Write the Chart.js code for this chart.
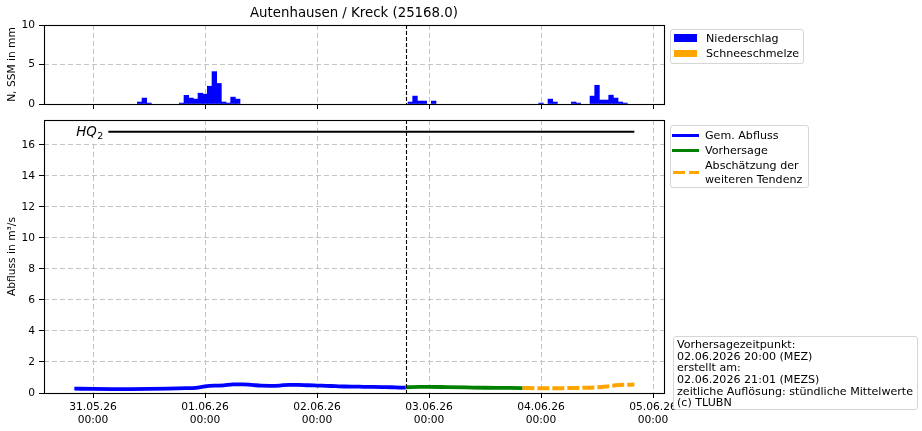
<!DOCTYPE html>
<html><head><meta charset="utf-8">
<script src="https://cdn.jsdelivr.net/npm/chart.js@4.4.1/dist/chart.umd.min.js"></script>
<style>
html,body{margin:0;padding:0;background:#fff;}
#wrap{position:relative;width:922px;height:431px;overflow:hidden;font-family:"DejaVu Sans",sans-serif;font-size:11.1px;color:#000;}
#wrap canvas{position:absolute;left:0;top:0;}
.box{position:absolute;border:1px solid #d6d6d6;border-radius:3px;background:#fff;box-sizing:border-box;}
.t{position:absolute;white-space:nowrap;line-height:13px;}
.sw{position:absolute;}
#title{position:absolute;top:5px;left:154px;width:400px;text-align:center;font-size:13.33px;line-height:16px;white-space:nowrap;}
</style></head>
<body>
<div id="wrap">
  <canvas id="top" width="922" height="431"></canvas>
  <canvas id="bottom" width="922" height="431"></canvas>
  <div id="title"></div>
</div>
<script>
// ---------------- DATA ----------------
const stationTitle = 'Autenhausen / Kreck (25168.0)';
// x axis: hours since 31.05.26 00:00
const tickHours = [0, 24, 48, 72, 96, 120];
const tickDates = ['31.05.26', '01.06.26', '02.06.26', '03.06.26', '04.06.26', '05.06.26'];
const tickTimes = ['00:00', '00:00', '00:00', '00:00', '00:00', '00:00'];
const forecastHour = 67; // Vorhersagezeitpunkt marker

// Niederschlag (mm per hour)
const rainHours  = [10, 11, 12, 19, 20, 21, 22, 23, 24, 25, 26, 27, 28, 29, 30, 31,
                    68, 69, 70, 71, 73, 96, 98, 99, 103, 104, 107, 108, 109, 110, 111, 112, 113, 114];
const rainValues = [0.25, 0.75, 0.12, 0.12, 1.1, 0.75, 0.62, 1.37, 1.25, 2.25, 4.1, 2.6, 0.25, 0.12, 0.87, 0.62,
                    0.25, 1.0, 0.37, 0.37, 0.37, 0.12, 0.62, 0.25, 0.25, 0.12, 1.0, 2.37, 0.5, 0.5, 1.12, 0.75, 0.25, 0.12];
// Schneeschmelze (none)
const snowHours  = [];
const snowValues = [];

// Gemessener Abfluss (m³/s)
const obsHours  = [-4, 0, 4, 8, 12, 16, 20, 22, 24, 26, 28, 30, 32, 34, 36, 38, 40, 42, 44, 46, 48, 50, 52, 54, 56, 58, 60, 62, 64, 66, 67];
const obsValues = [0.28, 0.26, 0.25, 0.25, 0.26, 0.28, 0.31, 0.33, 0.42, 0.47, 0.49, 0.56, 0.56, 0.52, 0.47, 0.46, 0.48, 0.53, 0.53, 0.5, 0.48, 0.46, 0.44, 0.42, 0.41, 0.4, 0.39, 0.38, 0.37, 0.35, 0.35];
// Vorhersage
const fcHours  = [67, 70, 72, 76, 80, 84, 88, 92];
const fcValues = [0.37, 0.39, 0.4, 0.38, 0.36, 0.34, 0.33, 0.32];
// Abschätzung der weiteren Tendenz
const trendHours  = [92, 96, 100, 104, 108, 110, 112, 114, 116];
const trendValues = [0.32, 0.31, 0.31, 0.33, 0.37, 0.42, 0.5, 0.53, 0.54];
// HQ2
const hq2Value = 16.84;
const hq2Hours = [-4, 116];

const legendTop = ['Niederschlag', 'Schneeschmelze'];
const legendBottom = ['Gem. Abfluss', 'Vorhersage', 'Abschätzung der\nweiteren Tendenz'];
const infoLines = ['Vorhersagezeitpunkt:', '02.06.2026 20:00 (MEZ)', 'erstellt am:', '02.06.2026 21:01 (MEZS)',
                   'zeitliche Auflösung: stündliche Mittelwerte', '(c) TLUBN'];

// ---------------- STYLE ----------------
const FONT = "'DejaVu Sans', sans-serif";
const FS = 10.67;
const X_MIN = -10.5, X_MAX = 122.35;
const GRID = '#c4c4c4';
const C_BLUE = '#0000ff', C_GREEN = '#008000', C_ORANGE = '#ffa500';

const pts = (xs, ys) => xs.map((x, i) => ({x: x, y: ys[i]}));

const framePlugin = {
  id: 'frame',
  afterDraw(chart) {
    const a = chart.chartArea, ctx = chart.ctx;
    const xs = chart.scales.x;
    const px = Math.round(xs.getPixelForValue(forecastHour)) + 0.5;
    ctx.save();
    ctx.strokeStyle = '#000';
    ctx.lineWidth = 1.1;
    ctx.setLineDash([4, 2]);
    ctx.beginPath(); ctx.moveTo(px, a.top); ctx.lineTo(px, a.bottom); ctx.stroke();
    ctx.setLineDash([]);
    ctx.strokeRect(Math.round(a.left) + 0.5, Math.round(a.top) + 0.5, Math.round(a.right - a.left), Math.round(a.bottom - a.top));
    ctx.restore();
  }
};

const hqPlugin = {
  id: 'hqlabel',
  afterDatasetsDraw(chart) {
    const ctx = chart.ctx, xs = chart.scales.x, ys = chart.scales.y;
    const y = ys.getPixelForValue(hq2Value);
    const x0 = xs.getPixelForValue(hq2Hours[0]);
    ctx.save();
    ctx.fillStyle = '#fff';
    ctx.fillRect(x0 - 8, chart.chartArea.top + 1, 42, y - chart.chartArea.top + 10);
    ctx.fillStyle = '#000';
    ctx.font = 'italic 13.33px ' + FONT;
    ctx.textBaseline = 'alphabetic';
    ctx.fillText('HQ', x0 + 2, y + 4.5);
    const w = ctx.measureText('HQ').width;
    ctx.font = '9.5px ' + FONT;
    ctx.fillText('2', x0 + 2 + w + 0.5, y + 7);
    ctx.restore();
  }
};

function xAxis(showLabels, height) {
  return {
    type: 'linear', min: X_MIN, max: X_MAX, offset: false,
    afterBuildTicks: s => { s.ticks = tickHours.map(v => ({value: v})); },
    afterFit: s => { s.height = height; },
    ticks: {
      display: showLabels, autoSkip: false, maxRotation: 0, minRotation: 0, padding: 3,
      color: '#000', font: {family: FONT, size: FS, lineHeight: 1.2},
      callback: v => { const i = tickHours.indexOf(v); return i >= 0 ? [tickDates[i], tickTimes[i]] : ''; }
    },
    grid: {color: GRID, lineWidth: 1, drawTicks: true, tickLength: 5, tickColor: '#000', tickWidth: 1, tickBorderDash: [], offset: false},
    border: {display: false, dash: [5, 3]}
  };
}

function yAxis(min, max, step, title) {
  return {
    type: 'linear', min: min, max: max,
    afterFit: s => { s.width = 44; },
    ticks: {stepSize: step, includeBounds: false, padding: 4, color: '#000', font: {family: FONT, size: FS}},
    grid: {color: GRID, lineWidth: 1, drawTicks: true, tickLength: 5, tickColor: '#000', tickWidth: 1, tickBorderDash: []},
    border: {display: false, dash: [5, 3]},
    title: {display: true, text: title, color: '#000', font: {family: FONT, size: FS, lineHeight: 1.2}, padding: {top: 6, bottom: 0}}
  };
}

// ---------------- TOP CHART ----------------
new Chart(document.getElementById('top'), {
  type: 'bar',
  data: {datasets: [
    {label: legendTop[0], data: pts(rainHours, rainValues), backgroundColor: C_BLUE, borderWidth: 0,
     barPercentage: 1, categoryPercentage: 1, grouped: false},
    {label: legendTop[1], data: pts(snowHours, snowValues), backgroundColor: C_ORANGE, borderWidth: 0,
     barPercentage: 1, categoryPercentage: 1, grouped: false}
  ]},
  options: {
    responsive: false, animation: false, devicePixelRatio: 1,
    layout: {padding: {left: 0, top: 25, right: 258, bottom: 431 - 104 - 6}},
    plugins: {legend: {display: false}, tooltip: {enabled: false}},
    scales: {x: xAxis(false, 6), y: yAxis(0, 10, 5, 'N, SSM in mm')}
  },
  plugins: [framePlugin]
});

// ---------------- BOTTOM CHART ----------------
new Chart(document.getElementById('bottom'), {
  type: 'line',
  data: {datasets: [
    {label: 'HQ2', data: pts(hq2Hours, [hq2Value, hq2Value]), borderColor: '#000', borderWidth: 2, pointRadius: 0},
    {label: legendBottom[0], data: pts(obsHours, obsValues), borderColor: C_BLUE, borderWidth: 3.8, pointRadius: 0, cubicInterpolationMode: 'monotone'},
    {label: legendBottom[1], data: pts(fcHours, fcValues), borderColor: C_GREEN, borderWidth: 3.8, pointRadius: 0, cubicInterpolationMode: 'monotone'},
    {label: legendBottom[2], data: pts(trendHours, trendValues), borderColor: C_ORANGE, borderWidth: 4, borderDash: [12, 3], pointRadius: 0, cubicInterpolationMode: 'monotone'}
  ]},
  options: {
    responsive: false, animation: false, devicePixelRatio: 1,
    layout: {padding: {left: 0, top: 120, right: 258, bottom: 0}},
    plugins: {legend: {display: false}, tooltip: {enabled: false}},
    scales: {x: xAxis(true, 38), y: yAxis(0, 17.6, 2, 'Abfluss in m³/s')}
  },
  plugins: [framePlugin, hqPlugin]
});

// ---------------- HTML TEXT / LEGENDS ----------------
document.getElementById('title').textContent = stationTitle;
const wrap = document.getElementById('wrap');
function add(html) { wrap.insertAdjacentHTML('beforeend', html); }

// legend top
add('<div class="box" style="left:670px;top:29px;width:134px;height:35px;"></div>');
add('<div class="sw" style="left:674px;top:34px;width:23px;height:7.5px;background:' + C_BLUE + '"></div>');
add('<div class="sw" style="left:674px;top:49.5px;width:23px;height:7.5px;background:' + C_ORANGE + '"></div>');
add('<div class="t" style="left:706px;top:31.5px;">' + legendTop[0] + '</div>');
add('<div class="t" style="left:706px;top:46.5px;">' + legendTop[1] + '</div>');

// legend bottom
add('<div class="box" style="left:670px;top:125px;width:139px;height:63px;"></div>');
add('<div class="sw" style="left:672px;top:133.5px;width:27px;height:3px;background:' + C_BLUE + '"></div>');
add('<div class="sw" style="left:672px;top:149px;width:27px;height:3px;background:' + C_GREEN + '"></div>');
add('<div class="sw" style="left:673px;top:170.5px;width:26px;height:3.5px;background:repeating-linear-gradient(90deg,' + C_ORANGE + ' 0 12px, transparent 12px 16px)"></div>');
add('<div class="t" style="left:705px;top:128.5px;">' + legendBottom[0] + '</div>');
add('<div class="t" style="left:705px;top:144px;">' + legendBottom[1] + '</div>');
const lb = legendBottom[2].split('\n');
add('<div class="t" style="left:705px;top:159px;">' + lb[0] + '</div>');
add('<div class="t" style="left:705px;top:172.5px;">' + lb[1] + '</div>');

// info box
add('<div class="box" style="left:673px;top:336px;width:245px;height:74px;"></div>');
infoLines.forEach((s, i) => {
  add('<div class="t" style="left:677px;top:' + (338.8 + i * 11.7) + 'px;line-height:12px;">' + s + '</div>');
});
</script>
</body></html>
